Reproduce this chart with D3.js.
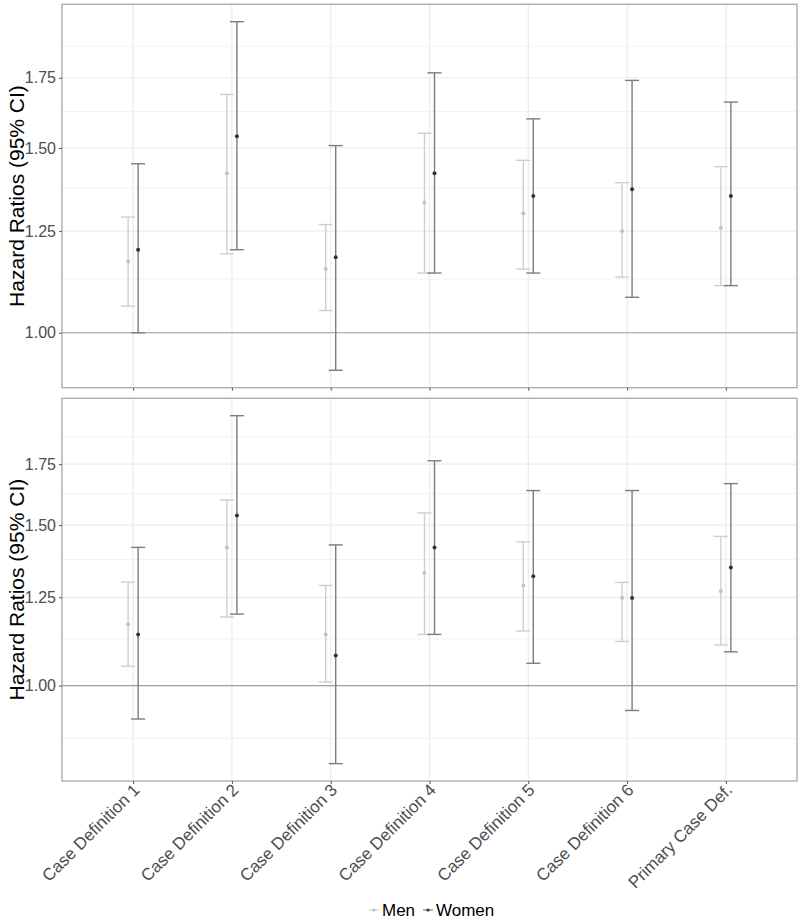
<!DOCTYPE html>
<html>
<head>
<meta charset="utf-8">
<script src="https://cdn.jsdelivr.net/npm/d3@7"></script>
<style>
  body { margin: 0; background: #fff; }
  svg { font-family: "Liberation Sans", Arial, sans-serif; }
</style>
</head>
<body>
<div id="chart"></div>
<script>
const categories = ['Case Definition 1', 'Case Definition 2', 'Case Definition 3', 'Case Definition 4',
                    'Case Definition 5', 'Case Definition 6', 'Primary Case Def.'];
const groups = ['Men', 'Women'];
const yTicks = [1.00, 1.25, 1.50, 1.75];
const yMinor = [0.875, 1.125, 1.375, 1.625, 1.875];

// top panel
const topMenHR   = [1.169, 1.419, 1.150, 1.330, 1.300, 1.250, 1.259];
const topMenLo   = [1.060, 1.189, 1.050, 1.140, 1.150, 1.130, 1.109];
const topMenHi   = [1.289, 1.687, 1.268, 1.549, 1.460, 1.390, 1.440];
const topWomenHR = [1.200, 1.539, 1.180, 1.419, 1.350, 1.370, 1.350];
const topWomenLo = [1.000, 1.200, 0.921, 1.140, 1.140, 1.081, 1.109];
const topWomenHi = [1.449, 1.979, 1.508, 1.769, 1.599, 1.740, 1.659];

// bottom panel
const botMenHR   = [1.168, 1.418, 1.138, 1.329, 1.288, 1.248, 1.269];
const botMenLo   = [1.050, 1.189, 1.009, 1.138, 1.148, 1.118, 1.108];
const botMenHi   = [1.299, 1.598, 1.288, 1.547, 1.438, 1.298, 1.458];
const botWomenHR = [1.138, 1.537, 1.079, 1.418, 1.318, 1.248, 1.348];
const botWomenLo = [0.919, 1.198, 0.821, 1.138, 1.058, 0.939, 1.089];
const botWomenHi = [1.418, 1.978, 1.427, 1.765, 1.637, 1.637, 1.666];

const width = 800, height = 920;
const left = 62, right = 797;
const lineColor = { Men: '#cfcfcf', Women: '#7d7d7d' };
const pointColor = { Men: '#c2c2c2', Women: '#333333' };
const dodge = { Men: -5, Women: 5 };
const capHalf = 7;

const svg = d3.select('#chart').append('svg')
    .attr('width', width).attr('height', height);

const x = d3.scalePoint().domain(categories).range([left, right]).padding(0.72);

function rows(hr, lo, hi, group) {
    return categories.map((c, i) => ({ cat: c, group: group, hr: hr[i], lo: lo[i], hi: hi[i] }));
}

function drawPanel(top, bottom, data, showLabels) {
    const lo = d3.min(data, d => d.lo), hi = d3.max(data, d => d.hi);
    const l0 = Math.log(lo), l1 = Math.log(hi), pad = (l1 - l0) * 0.05;
    const y = d3.scaleLog().domain([Math.exp(l0 - pad), Math.exp(l1 + pad)]).range([bottom, top]);
    const inRange = v => v >= y.domain()[0] && v <= y.domain()[1];

    const g = svg.append('g');

    // grid
    g.selectAll('.minor').data(yMinor.filter(inRange)).join('line')
        .attr('x1', left).attr('x2', right)
        .attr('y1', d => y(d)).attr('y2', d => y(d))
        .attr('stroke', '#f3f3f3').attr('stroke-width', 1);
    g.selectAll('.major').data(yTicks).join('line')
        .attr('x1', left).attr('x2', right)
        .attr('y1', d => y(d)).attr('y2', d => y(d))
        .attr('stroke', '#ebebeb').attr('stroke-width', 1.2);
    g.selectAll('.vgrid').data(categories).join('line')
        .attr('x1', d => x(d)).attr('x2', d => x(d))
        .attr('y1', top).attr('y2', bottom)
        .attr('stroke', '#ebebeb').attr('stroke-width', 1.2);

    // reference line at 1
    g.append('line')
        .attr('x1', left).attr('x2', right)
        .attr('y1', y(1)).attr('y2', y(1))
        .attr('stroke', '#a0a0a0').attr('stroke-width', 1.2);

    // error bars
    const bars = g.selectAll('.bar').data(data).join('g')
        .attr('transform', d => `translate(${x(d.cat) + dodge[d.group]},0)`);
    bars.append('line')
        .attr('y1', d => y(d.lo)).attr('y2', d => y(d.hi))
        .attr('stroke', d => lineColor[d.group]).attr('stroke-width', 1.4);
    bars.append('line')
        .attr('x1', -capHalf).attr('x2', capHalf)
        .attr('y1', d => y(d.hi)).attr('y2', d => y(d.hi))
        .attr('stroke', d => lineColor[d.group]).attr('stroke-width', 1.4);
    bars.append('line')
        .attr('x1', -capHalf).attr('x2', capHalf)
        .attr('y1', d => y(d.lo)).attr('y2', d => y(d.lo))
        .attr('stroke', d => lineColor[d.group]).attr('stroke-width', 1.4);
    bars.append('circle')
        .attr('cy', d => y(d.hr)).attr('r', 2)
        .attr('fill', d => pointColor[d.group]);

    // panel border
    g.append('rect')
        .attr('x', left).attr('y', top)
        .attr('width', right - left).attr('height', bottom - top)
        .attr('fill', 'none').attr('stroke', '#a8a8a8').attr('stroke-width', 1.3);

    // y axis
    const yAxis = g.append('g').attr('transform', `translate(${left},0)`)
        .call(d3.axisLeft(y).tickValues(yTicks).tickFormat(d3.format('.2f')).tickSize(3).tickPadding(3));
    yAxis.select('.domain').remove();
    yAxis.selectAll('.tick line').attr('stroke', '#555');
    yAxis.selectAll('.tick text').attr('fill', '#4d4d4d').style('font-size', '16px');

    // x axis
    const xAxis = g.append('g').attr('transform', `translate(0,${bottom})`)
        .call(d3.axisBottom(x).tickSize(3).tickFormat(showLabels ? (d => d) : ''));
    xAxis.select('.domain').remove();
    xAxis.selectAll('.tick line').attr('stroke', '#555');
    if (showLabels) {
        xAxis.selectAll('.tick text')
            .attr('fill', '#4d4d4d').style('font-size', '17px')
            .attr('text-anchor', 'end')
            .attr('dy', null).attr('y', 0)
            .attr('transform', 'translate(7,10) rotate(-45)');
    }

    // y title
    svg.append('text')
        .attr('transform', `translate(24,${(top + bottom) / 2}) rotate(-90)`)
        .attr('text-anchor', 'middle')
        .style('font-size', '21px').attr('fill', '#000')
        .text('Hazard Ratios (95% CI)');
}

const topData = rows(topMenHR, topMenLo, topMenHi, 'Men').concat(rows(topWomenHR, topWomenLo, topWomenHi, 'Women'));
const botData = rows(botMenHR, botMenLo, botMenHi, 'Men').concat(rows(botWomenHR, botWomenLo, botWomenHi, 'Women'));

drawPanel(4.3, 387.7, topData, false);
drawPanel(398.3, 781, botData, true);

// legend
const legend = svg.append('g').attr('transform', 'translate(369,916)');
const legendX = { Men: 0, Women: 54 };
groups.forEach(gname => {
    const item = legend.append('g').attr('transform', `translate(${legendX[gname]},0)`);
    item.append('line').attr('x1', 0).attr('x2', 10).attr('y1', -6).attr('y2', -6)
        .attr('stroke', lineColor[gname]).attr('stroke-width', 1.2);
    item.append('circle').attr('cx', 5).attr('cy', -6).attr('r', 1.6).attr('fill', pointColor[gname]);
    item.append('text').attr('x', 13).attr('y', 0)
        .style('font-size', '17px').attr('fill', '#000').text(gname);
});
</script>
</body>
</html>
